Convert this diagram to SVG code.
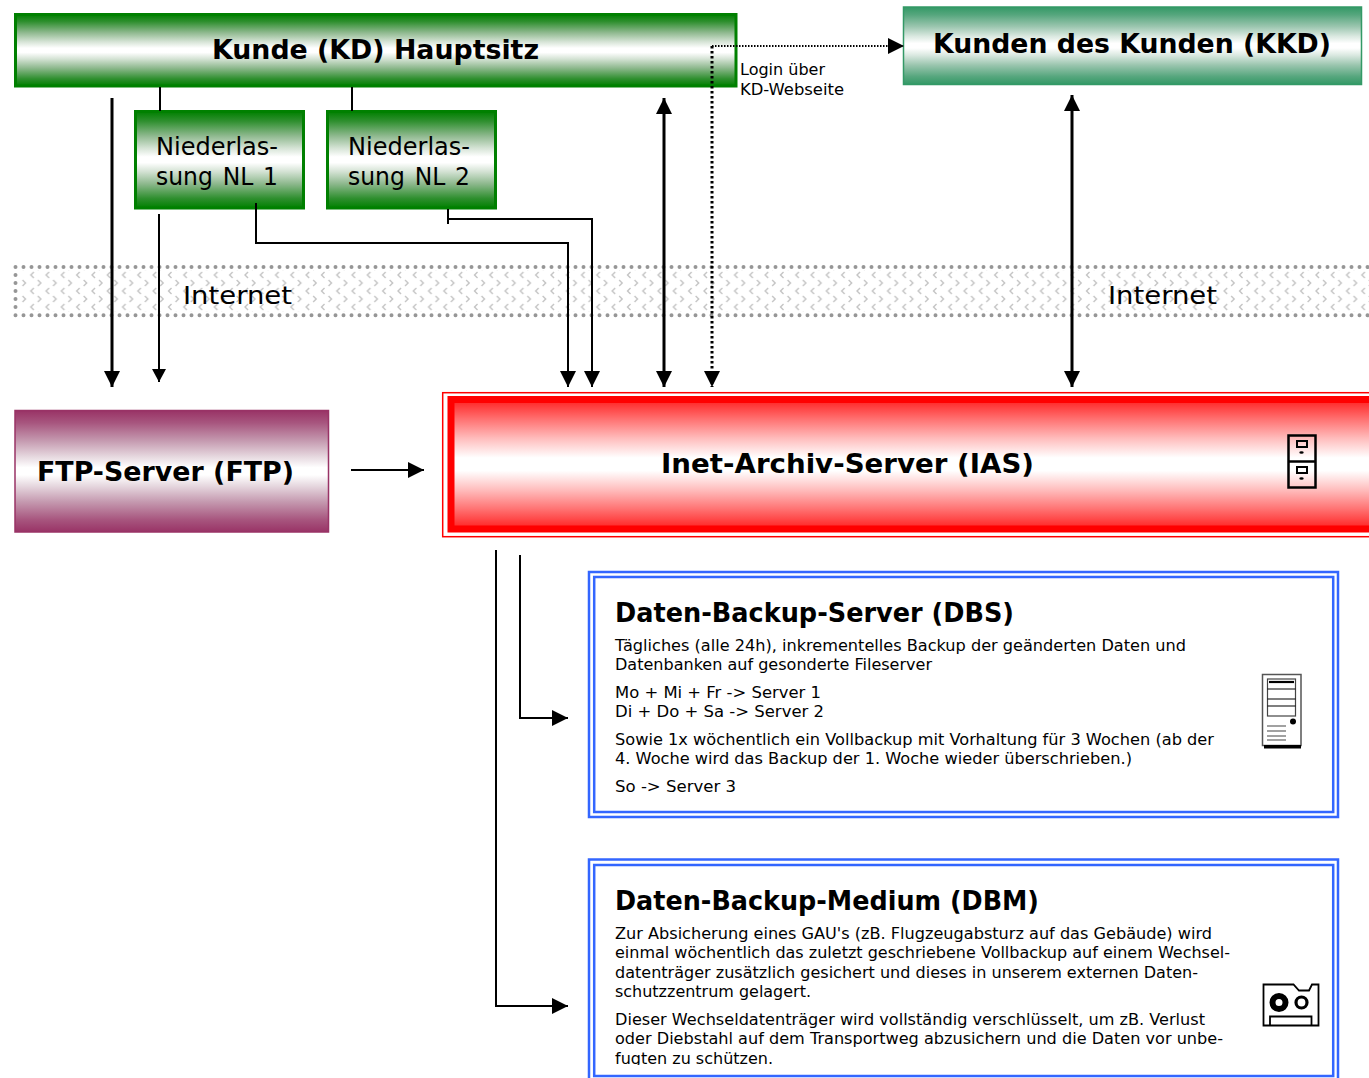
<svg xmlns="http://www.w3.org/2000/svg" width="1369" height="1078" viewBox="0 0 1369 1078">
<style>
text{font-family:"DejaVu Sans","Liberation Sans",sans-serif;fill:#000}
.t{font-weight:700;font-size:27px}
.b{font-size:16.5px}
.m{font-size:25px}
.w{word-spacing:2.500px}
.l{stroke:#000;fill:none;stroke-width:2}
.h{stroke-width:3}
.ic{fill:none;stroke:#000}
</style>
<defs>
<linearGradient id="gG" x1="0" y1="0" x2="0" y2="1"><stop offset="0" stop-color="#008000"/><stop offset=".1" stop-color="#2f8f2f"/><stop offset=".25" stop-color="#8db88d"/><stop offset=".38" stop-color="#d5e3d5"/><stop offset=".47" stop-color="#fff"/><stop offset=".53" stop-color="#fff"/><stop offset=".62" stop-color="#d5e3d5"/><stop offset=".75" stop-color="#8db88d"/><stop offset=".9" stop-color="#2f8f2f"/><stop offset="1" stop-color="#008000"/></linearGradient>
<linearGradient id="gT" x1="0" y1="0" x2="0" y2="1"><stop offset="0" stop-color="#339966"/><stop offset=".1" stop-color="#55a67d"/><stop offset=".25" stop-color="#9ac5ae"/><stop offset=".38" stop-color="#dbe9e1"/><stop offset=".47" stop-color="#fff"/><stop offset=".53" stop-color="#fff"/><stop offset=".62" stop-color="#dbe9e1"/><stop offset=".75" stop-color="#9ac5ae"/><stop offset=".9" stop-color="#55a67d"/><stop offset="1" stop-color="#339966"/></linearGradient>
<linearGradient id="gP" x1="0" y1="0" x2="0" y2="1"><stop offset="0" stop-color="#993366"/><stop offset=".1" stop-color="#a7557e"/><stop offset=".25" stop-color="#c59ab0"/><stop offset=".38" stop-color="#e6d8df"/><stop offset=".47" stop-color="#fff"/><stop offset=".53" stop-color="#fff"/><stop offset=".62" stop-color="#e6d8df"/><stop offset=".75" stop-color="#c59ab0"/><stop offset=".9" stop-color="#a7557e"/><stop offset="1" stop-color="#993366"/></linearGradient>
<linearGradient id="gR" x1="0" y1="0" x2="0" y2="1"><stop offset="0" stop-color="#ff2020"/><stop offset=".15" stop-color="#ff7070"/><stop offset=".3" stop-color="#ffbcbc"/><stop offset=".45" stop-color="#fff"/><stop offset=".55" stop-color="#fff"/><stop offset=".7" stop-color="#ffbcbc"/><stop offset=".85" stop-color="#ff7070"/><stop offset="1" stop-color="#ff2020"/></linearGradient>
<pattern id="chev" width="30.6" height="16" patternUnits="userSpaceOnUse" x="14" y="267">
<path d="M4.500 5l-3 3 3 3M19.800 5l-3 3 3 3M8.500 13l3 3-3 3M8.500-3l3 3-3 3M23.800 13l3 3-3 3M23.800-3l3 3-3 3" fill="none" stroke="#c4c4c4" stroke-width="1.400"/>
</pattern>
<marker id="a16" markerUnits="userSpaceOnUse" viewBox="0 0 16 16" markerWidth="16" markerHeight="16" refX="16" refY="8" orient="auto-start-reverse"><path d="M0 0L16 8L0 16Z"/></marker>
<marker id="a13" markerUnits="userSpaceOnUse" viewBox="0 0 13 14" markerWidth="13" markerHeight="14" refX="13" refY="7" orient="auto-start-reverse"><path d="M0 0L13 7L0 14Z"/></marker>
<clipPath id="dbmClip"><rect x="596" y="868" width="740" height="197"/></clipPath>
</defs>

<g id="internet-band">
<rect x="14" y="266" width="1355" height="50" fill="#fff"/>
<rect x="20" y="270" width="1349" height="42" fill="url(#chev)"/>
<path d="M15.500 267H1369M15.500 315.200H1369M15.500 267V315" fill="none" stroke="#969696" stroke-width="4" stroke-linecap="round" stroke-dasharray="0 8"/>
<text class="m" x="183" y="304" textLength="109" lengthAdjust="spacingAndGlyphs">Internet</text>
<text class="m" x="1108" y="304" textLength="109" lengthAdjust="spacingAndGlyphs">Internet</text>
</g>

<g id="node-kd">
<rect x="15.500" y="14.500" width="720.500" height="71.500" fill="url(#gG)" stroke="#008000" stroke-width="3"/>
<text class="t" x="212" y="59" textLength="327" lengthAdjust="spacingAndGlyphs">Kunde (KD) Hauptsitz</text>
</g>
<g id="node-kkd">
<rect x="903.500" y="7" width="458" height="77.500" fill="url(#gT)" stroke="#339966" stroke-width="1.500"/>
<text class="t" x="933" y="53" textLength="398" lengthAdjust="spacingAndGlyphs">Kunden des Kunden (KKD)</text>
</g>
<g id="node-nl1">
<rect x="135.500" y="111.500" width="168" height="96.500" fill="url(#gG)" stroke="#008000" stroke-width="3"/>
<text class="m" x="156" y="155" textLength="122" lengthAdjust="spacingAndGlyphs">Niederlas-</text>
<text class="m w" x="156" y="185" textLength="122" lengthAdjust="spacingAndGlyphs">sung NL 1</text>
</g>
<g id="node-nl2">
<rect x="327.500" y="111.500" width="168" height="96.500" fill="url(#gG)" stroke="#008000" stroke-width="3"/>
<text class="m" x="348" y="155" textLength="122" lengthAdjust="spacingAndGlyphs">Niederlas-</text>
<text class="m w" x="348" y="185" textLength="122" lengthAdjust="spacingAndGlyphs">sung NL 2</text>
</g>
<g id="node-ftp">
<rect x="15" y="410.500" width="313.500" height="121.500" fill="url(#gP)" stroke="#993366" stroke-width="1.500"/>
<text class="t" x="37" y="481" textLength="257" lengthAdjust="spacingAndGlyphs">FTP-Server (FTP)</text>
</g>
<g id="node-ias">
<rect x="442.700" y="392.700" width="940" height="144" fill="#fff" stroke="#ff0000" stroke-width="1.500"/>
<rect x="451" y="399.500" width="930" height="129.500" fill="url(#gR)" stroke="#ff0000" stroke-width="7"/>
<text class="t" x="661" y="473" textLength="373" lengthAdjust="spacingAndGlyphs">Inet-Archiv-Server (IAS)</text>
<g class="ic" stroke-width="2.500">
<rect x="1288.500" y="435.500" width="27" height="52"/>
<path d="M1288.500 461.500H1315.500"/>
<rect x="1297" y="441" width="10" height="6" stroke-width="2"/>
<rect x="1297" y="467" width="10" height="6" stroke-width="2"/>
</g>
<ellipse cx="1301.500" cy="452.500" rx="2.200" ry="1.300"/>
<ellipse cx="1301.500" cy="478.500" rx="2.200" ry="1.300"/>
</g>
<g id="node-dbs">
<rect x="589" y="572" width="749" height="245" fill="none" stroke="#3366ff" stroke-width="2.500"/>
<rect x="594.200" y="577" width="739" height="235" fill="#fff" stroke="#3366ff" stroke-width="2.500"/>
<text class="t" x="615" y="622" textLength="399" lengthAdjust="spacingAndGlyphs">Daten-Backup-Server (DBS)</text>
<text class="b" x="615" y="651" textLength="571" lengthAdjust="spacingAndGlyphs">Tägliches (alle 24h), inkrementelles Backup der geänderten Daten und</text>
<text class="b" x="615" y="670" textLength="317" lengthAdjust="spacingAndGlyphs">Datenbanken auf gesonderte Fileserver</text>
<text class="b" x="615" y="698" textLength="206" lengthAdjust="spacingAndGlyphs">Mo + Mi + Fr -&gt; Server 1</text>
<text class="b" x="615" y="717" textLength="209" lengthAdjust="spacingAndGlyphs">Di + Do + Sa -&gt; Server 2</text>
<text class="b" x="615" y="745" textLength="599" lengthAdjust="spacingAndGlyphs">Sowie 1x wöchentlich ein Vollbackup mit Vorhaltung für 3 Wochen (ab der</text>
<text class="b" x="615" y="764" textLength="517" lengthAdjust="spacingAndGlyphs">4. Woche wird das Backup der 1. Woche wieder überschrieben.)</text>
<text class="b" x="615" y="792" textLength="121" lengthAdjust="spacingAndGlyphs">So -&gt; Server 3</text>
<g class="ic">
<rect x="1262.500" y="674.500" width="38.500" height="71" stroke="#555" stroke-width="1.500"/>
<rect x="1267.500" y="679" width="28" height="37" stroke="#444" stroke-width="1.200"/>
<path d="M1269 682H1294" stroke-width="2.200"/>
<path d="M1267.500 689H1295.500M1267.500 699H1295.500M1267.500 706H1295.500" stroke-width="1.200"/>
<path d="M1267 726H1286M1267 731H1286M1267 736H1286M1267 740H1286" stroke="#444" stroke-width="1.200"/>
</g>
<circle cx="1293" cy="721.500" r="3"/>
<rect x="1264" y="745" width="37" height="3.500"/>
</g>
<g id="node-dbm">
<rect x="589" y="859.500" width="749" height="230" fill="none" stroke="#3366ff" stroke-width="2.500"/>
<rect x="594.200" y="865" width="739" height="211" fill="#fff" stroke="#3366ff" stroke-width="2.500"/>
<text class="t" x="615" y="910" textLength="424" lengthAdjust="spacingAndGlyphs">Daten-Backup-Medium (DBM)</text>
<text class="b" x="615" y="939" textLength="597" lengthAdjust="spacingAndGlyphs">Zur Absicherung eines GAU's (zB. Flugzeugabsturz auf das Gebäude) wird</text>
<text class="b" x="615" y="958" textLength="615" lengthAdjust="spacingAndGlyphs">einmal wöchentlich das zuletzt geschriebene Vollbackup auf einem Wechsel-</text>
<text class="b" x="615" y="978" textLength="583" lengthAdjust="spacingAndGlyphs">datenträger zusätzlich gesichert und dieses in unserem externen Daten-</text>
<text class="b" x="615" y="997" textLength="196" lengthAdjust="spacingAndGlyphs">schutzzentrum gelagert.</text>
<text class="b" x="615" y="1025" textLength="590" lengthAdjust="spacingAndGlyphs">Dieser Wechseldatenträger wird vollständig verschlüsselt, um zB. Verlust</text>
<text class="b" x="615" y="1044" textLength="608" lengthAdjust="spacingAndGlyphs">oder Diebstahl auf dem Transportweg abzusichern und die Daten vor unbe-</text>
<text class="b" x="615" y="1064" textLength="158" lengthAdjust="spacingAndGlyphs" clip-path="url(#dbmClip)">fugten zu schützen.</text>
<path class="ic" stroke="#222" stroke-width="1.800" d="M1263.500 984.500H1293.500L1299 990.500H1309L1312 984.500H1318.500V1025.500H1263.500ZM1270 1025.500V1016.500H1311.500V1025.500"/>
<circle cx="1279" cy="1002.500" r="6.500" fill="#fff" stroke="#000" stroke-width="6"/>
<circle cx="1301.500" cy="1002.500" r="5.500" fill="#fff" stroke="#000" stroke-width="3.200"/>
</g>
<g id="label-login">
<text x="740" y="75" font-size="16">Login über</text>
<text x="740" y="95" font-size="16" textLength="104" lengthAdjust="spacingAndGlyphs">KD-Webseite</text>
</g>

<g id="connectors">
<path class="l" d="M160 87V111M352 87V111"/>
<path class="l h" d="M112 98V387" marker-end="url(#a16)"/>
<path class="l" d="M159 214V382" marker-end="url(#a13)"/>
<path class="l" d="M256 203V243H568V387" marker-end="url(#a16)"/>
<path class="l" d="M448 209V224M448 219H592V387" marker-end="url(#a16)"/>
<path class="l h" d="M664 98V387" marker-start="url(#a16)" marker-end="url(#a16)"/>
<path class="l h" d="M1072 95V387" marker-start="url(#a16)" marker-end="url(#a16)"/>
<path class="l h" d="M712 46V387" stroke-dasharray="2.500 2.500" marker-end="url(#a16)"/>
<path class="l" d="M712 46H904" stroke-dasharray="1.500 1.500" marker-end="url(#a16)"/>
<path class="l" d="M351 470H424" marker-end="url(#a16)"/>
<path class="l" d="M496 550V1006H568" marker-end="url(#a16)"/>
<path class="l" d="M520 555V718H568" marker-end="url(#a16)"/>
</g>
</svg>
